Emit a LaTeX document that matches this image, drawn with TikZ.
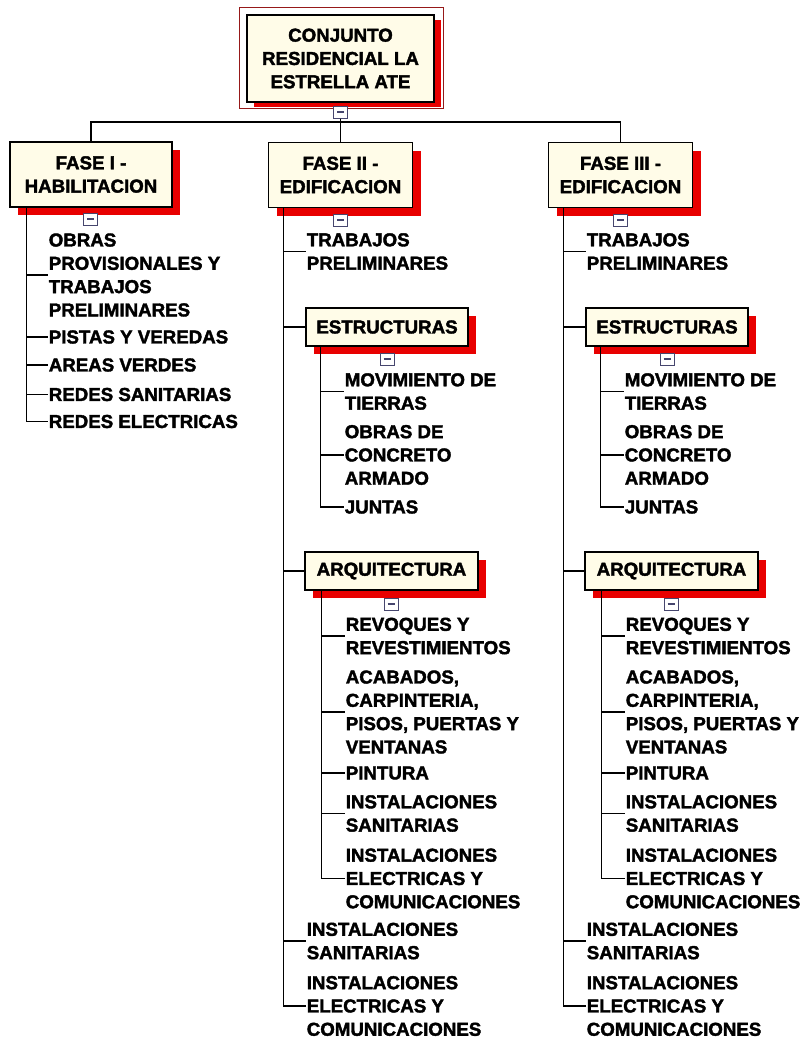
\documentclass[tikz,border=0pt]{standalone}
\usepackage{fontspec}
\setmainfont{Liberation Sans}[BoldFeatures={FakeBold=2}]
\usetikzlibrary{shadows}
\definecolor{cream}{RGB}{255,252,232}
\definecolor{darkframe}{RGB}{150,25,25}
\definecolor{shadowred}{RGB}{232,0,0}
\definecolor{togglecol}{RGB}{70,70,110}
\newcommand{\togglebar}{\textcolor{togglecol}{\rule{7pt}{1.8pt}}}

\begin{document}
\begin{tikzpicture}[x=1pt, y=-1pt, font=\fontsize{18.7}{23.3}\selectfont\bfseries]
    \tikzstyle{box} = [draw, line width=1.4pt, fill=cream, align=center, inner sep=0pt]
    \tikzstyle{fase} = [box, drop shadow={shadow xshift=8pt, shadow yshift=-8pt, fill=shadowred, opacity=1}]
    \tikzstyle{task} = [anchor=west, align=left, inner sep=0pt]
    \tikzstyle{toggle} = [draw=togglecol, line width=1pt, fill=white, minimum width=14pt, minimum height=12pt, inner sep=0pt]
    \tikzstyle{elbow} = [to path={|- (\tikztotarget)}]
    \tikzstyle{bus} = [to path={-- (\tikztostart |- bus) -| (\tikztotarget)}]
    \useasboundingbox (0,0) rectangle (805,1041);
    % raiz
    \node[box, minimum width=187pt, minimum height=87pt, drop shadow={shadow xshift=7pt, shadow yshift=-5pt, fill=shadowred, opacity=1}] (R) at (340.5,58.5) {CONJUNTO\\RESIDENCIAL LA\\ESTRELLA ATE};
    \draw[darkframe, line width=1.2pt] ([shift={(-7,-7)}]R.north west) rectangle ([shift={(9,6)}]R.south east);
    \node[toggle] (Rm) at (340.5,112) {\togglebar};
    \coordinate (bus) at (0,122);
    \begin{scope}
        \path[line width=1.6pt]
            node[fase, minimum width=162pt, minimum height=65pt] (F1) at (91,174.5) {FASE I -\\HABILITACION}
            coordinate (T) at ([xshift=17pt]F1.south west)
            node[task] (O1) at (48,275) {OBRAS\\PROVISIONALES Y\\TRABAJOS\\PRELIMINARES}
            node[task] (O2) at (48,337) {PISTAS Y VEREDAS}
            node[task] (O3) at (48,365) {AREAS VERDES}
            node[task] (O4) at (48,394.5) {REDES SANITARIAS}
            node[task] (O5) at (48,421.5) {REDES ELECTRICAS}
            (Rm.south) edge[bus] (F1.north)
            (T) edge[elbow] (O1.west)
            (T) edge[elbow] (O2.west)
            (T) edge[elbow] (O3.west)
            (T) edge[elbow] (O4.west)
            (T) edge[elbow] (O5.west)
            node[toggle] (Fm) at (90.5,219) {\togglebar}
            ;
    \end{scope}
    \begin{scope}
        \path[line width=1.6pt]
            node[fase, minimum width=144pt, minimum height=65pt] (F2) at (340.5,175) {FASE II -\\EDIFICACION}
            coordinate (T) at ([xshift=15.5pt]F2.south west)
            node[task] (A1) at (306,251.5) {TRABAJOS\\PRELIMINARES}
            node[fase, minimum width=162pt, minimum height=38pt] (E) at (387,327) {ESTRUCTURAS}
            coordinate (U) at ([xshift=15pt]E.south west)
            node[task] (E1) at (344,391.5) {MOVIMIENTO DE\\TIERRAS}
            node[task] (E2) at (344,455) {OBRAS DE\\CONCRETO\\ARMADO}
            node[task] (E3) at (344,507) {JUNTAS}
            node[fase, minimum width=173pt, minimum height=38pt] (Q) at (391.5,571) {ARQUITECTURA}
            coordinate (V) at ([xshift=17pt]Q.south west)
            node[task] (Q1) at (345,636) {REVOQUES Y\\REVESTIMIENTOS}
            node[task] (Q2) at (345,712) {ACABADOS,\\CARPINTERIA,\\PISOS, PUERTAS Y\\VENTANAS}
            node[task] (Q3) at (345,773) {PINTURA}
            node[task] (Q4) at (345,813.5) {INSTALACIONES\\SANITARIAS}
            node[task] (Q5) at (345,878.5) {INSTALACIONES\\ELECTRICAS Y\\COMUNICACIONES}
            node[task] (A2) at (306,941) {INSTALACIONES\\SANITARIAS}
            node[task] (A3) at (306,1006) {INSTALACIONES\\ELECTRICAS Y\\COMUNICACIONES}
            (Rm.south) edge[bus] (F2.north)
            (T) edge[elbow] (A1.west)
            (T) edge[elbow] (E.west)
            (T) edge[elbow] (Q.west)
            (T) edge[elbow] (A2.west)
            (T) edge[elbow] (A3.west)
            (U) edge[elbow] (E1.west)
            (U) edge[elbow] (E2.west)
            (U) edge[elbow] (E3.west)
            (V) edge[elbow] (Q1.west)
            (V) edge[elbow] (Q2.west)
            (V) edge[elbow] (Q3.west)
            (V) edge[elbow] (Q4.west)
            (V) edge[elbow] (Q5.west)
            node[toggle] (Fm) at (340.5,220) {\togglebar}
            node[toggle] (Em) at (387,359) {\togglebar}
            node[toggle] (Qm) at (391,604) {\togglebar}
            ;
    \end{scope}
    \begin{scope}[xshift=280pt]
        \path[line width=1.6pt]
            node[fase, minimum width=144pt, minimum height=65pt] (F3) at (340.5,175) {FASE III -\\EDIFICACION}
            coordinate (T) at ([xshift=15.5pt]F3.south west)
            node[task] (A1) at (306,251.5) {TRABAJOS\\PRELIMINARES}
            node[fase, minimum width=162pt, minimum height=38pt] (E) at (387,327) {ESTRUCTURAS}
            coordinate (U) at ([xshift=15pt]E.south west)
            node[task] (E1) at (344,391.5) {MOVIMIENTO DE\\TIERRAS}
            node[task] (E2) at (344,455) {OBRAS DE\\CONCRETO\\ARMADO}
            node[task] (E3) at (344,507) {JUNTAS}
            node[fase, minimum width=173pt, minimum height=38pt] (Q) at (391.5,571) {ARQUITECTURA}
            coordinate (V) at ([xshift=17pt]Q.south west)
            node[task] (Q1) at (345,636) {REVOQUES Y\\REVESTIMIENTOS}
            node[task] (Q2) at (345,712) {ACABADOS,\\CARPINTERIA,\\PISOS, PUERTAS Y\\VENTANAS}
            node[task] (Q3) at (345,773) {PINTURA}
            node[task] (Q4) at (345,813.5) {INSTALACIONES\\SANITARIAS}
            node[task] (Q5) at (345,878.5) {INSTALACIONES\\ELECTRICAS Y\\COMUNICACIONES}
            node[task] (A2) at (306,941) {INSTALACIONES\\SANITARIAS}
            node[task] (A3) at (306,1006) {INSTALACIONES\\ELECTRICAS Y\\COMUNICACIONES}
            (Rm.south) edge[bus] (F3.north)
            (T) edge[elbow] (A1.west)
            (T) edge[elbow] (E.west)
            (T) edge[elbow] (Q.west)
            (T) edge[elbow] (A2.west)
            (T) edge[elbow] (A3.west)
            (U) edge[elbow] (E1.west)
            (U) edge[elbow] (E2.west)
            (U) edge[elbow] (E3.west)
            (V) edge[elbow] (Q1.west)
            (V) edge[elbow] (Q2.west)
            (V) edge[elbow] (Q3.west)
            (V) edge[elbow] (Q4.west)
            (V) edge[elbow] (Q5.west)
            node[toggle] (Fm) at (340.5,220) {\togglebar}
            node[toggle] (Em) at (387,359) {\togglebar}
            node[toggle] (Qm) at (391,604) {\togglebar}
            ;
    \end{scope}
\end{tikzpicture}
\end{document}
